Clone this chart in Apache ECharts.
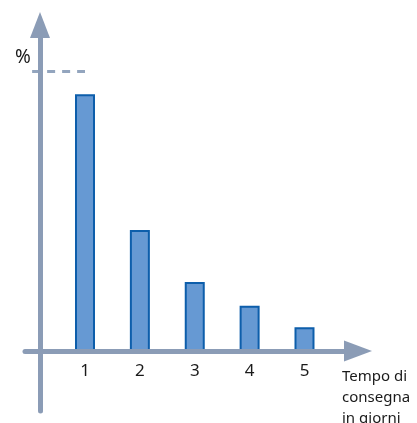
<!DOCTYPE html>
<html>
<head>
<meta charset="utf-8">
<script src="https://cdn.jsdelivr.net/npm/echarts@6/dist/echarts.min.js"></script>
<style>
html,body{margin:0;padding:0;background:#fff;}
#c{width:417px;height:423px;}
</style>
</head>
<body>
<div id="c"></div>
<script>
// Data
var categories = [1, 2, 3, 4, 5];
var values = [91.7, 43.2, 24.6, 16.2, 8.5];
var referenceValue = 100; // dashed reference level (100 %)
var yName = '%';
var xName = 'Tempo di\nconsegna\nin giorni';

var axisColor = '#8b9cb6';
var chart = echarts.init(document.getElementById('c'), null, {renderer: 'canvas'});
var barData = categories.map(function (c, i) { return [c, values[i]]; });

chart.setOption({
  animation: false,
  backgroundColor: '#ffffff',
  title: [
    {text: yName, left: 15, top: 48, padding: 0, textStyle: {fontFamily: 'Noto Sans', fontSize: 19, fontWeight: 'normal', color: '#1a1a1a'}},
    {text: xName, left: 342, top: 366, padding: 0, textStyle: {fontFamily: 'Noto Sans', fontSize: 15, fontWeight: 'normal', color: '#1a1a1a', lineHeight: 21}}
  ],
  grid: {left: 25, right: 59, top: 25, bottom: 12, containLabel: false, outerBoundsMode: 'none'},
  xAxis: {
    type: 'value',
    min: -0.0934,
    max: 5.975,
    offset: -60,
    z: 10,
    axisLine: {show: true, onZero: false, symbol: ['none', 'triangle'], symbolSize: [21, 28],
      lineStyle: {color: axisColor, width: 5}},
    axisTick: {show: false},
    splitLine: {show: false},
    axisLabel: {show: true, customValues: categories, margin: 12,
      fontFamily: 'Noto Sans', fontSize: 17, color: '#1a1a1a'}
  },
  yAxis: {
    type: 'value',
    min: -21.43,
    max: 116.43,
    offset: -15,
    z: 10,
    axisLine: {show: true, onZero: false, symbol: ['none', 'triangle'], symbolSize: [20, 26],
      lineStyle: {color: axisColor, width: 5}},
    axisTick: {show: false},
    splitLine: {show: false},
    axisLabel: {show: false}
  },
  series: [{
    type: 'bar',
    data: barData,
    barWidth: 20,
    itemStyle: {color: '#6699d3', borderColor: '#0d5eab', borderWidth: 2},
    silent: true,
    markLine: {
      silent: true,
      symbol: ['none', 'none'],
      label: {show: false},
      lineStyle: {color: '#93a5be', width: 3, type: [8, 7], dashOffset: 13},
      data: [[{coord: [0, referenceValue]}, {coord: [categories[0], referenceValue]}]]
    }
  }]
});
</script>
</body>
</html>
